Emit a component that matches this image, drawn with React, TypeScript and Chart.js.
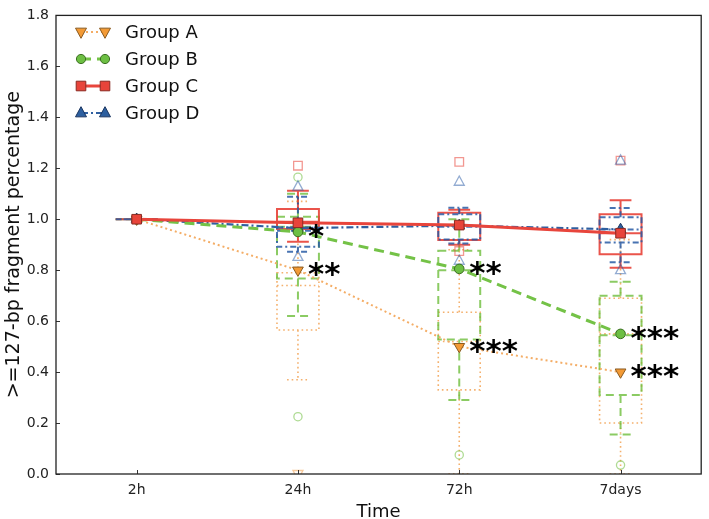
import React, { useEffect, useRef } from 'react';
import { Chart, registerables } from 'chart.js';

Chart.register(...registerables);

const FONT = '"DejaVu Sans", "Liberation Sans", sans-serif';

const categories = ['2h', '24h', '72h', '7days'];
const yTicks = [0, 0.2, 0.4, 0.6, 0.8, 1.0, 1.2, 1.4, 1.6, 1.8];
const groupNames = ['Group A', 'Group B', 'Group C', 'Group D'];

// mean values (line markers)
const meanA = [1.0, 0.8, 0.5, 0.4];
const meanB = [1.0, 0.95, 0.805, 0.55];
const meanC = [1.0, 0.986, 0.977, 0.945];
const meanD = [1.0, 0.965, 0.975, 0.96];

// box plot statistics
const loA = [1.0, 0.37, 0.0, 0.0];
const q1A = [1.0, 0.565, 0.33, 0.2];
const medA = [1.0, 0.74, 0.52, 0.55];
const q3A = [1.0, 0.79, 0.635, 0.69];
const hiA = [1.0, 1.07, 0.88, 0.92];
const fliersA = [[], [0.0], [], []];

const loB = [1.0, 0.62, 0.29, 0.155];
const q1B = [1.0, 0.767, 0.528, 0.31];
const medB = [1.0, 0.97, 0.8, 0.545];
const q3B = [1.0, 1.01, 0.876, 0.7];
const hiB = [1.0, 1.1, 1.0, 0.755];
const fliersB = [[], [1.165, 0.225], [0.075], [0.035]];

const loC = [1.0, 0.912, 0.9, 0.81];
const q1C = [1.0, 0.962, 0.918, 0.863];
const medC = [1.0, 0.99, 0.975, 0.945];
const q3C = [1.0, 1.04, 1.025, 1.02];
const hiC = [1.0, 1.112, 1.037, 1.074];
const fliersC = [[], [1.21], [1.225, 0.875], [1.23]];

const loD = [1.0, 0.872, 0.905, 0.831];
const q1D = [1.0, 0.892, 0.92, 0.909];
const medD = [1.0, 0.955, 0.97, 0.96];
const q3D = [1.0, 0.968, 1.02, 1.008];
const hiD = [1.0, 1.088, 1.045, 1.044];
const fliersD = [[], [1.128, 0.852], [1.147, 0.837], [1.23, 0.8]];

// significance annotations
const starGroup = [1, 0, 1, 0, 1, 0];
const starIndex = [1, 1, 2, 2, 3, 3];
const starText = ['*', '**', '**', '***', '***', '***'];

const means = [meanA, meanB, meanC, meanD];
const boxes = [
  { lo: loA, q1: q1A, med: medA, q3: q3A, hi: hiA, fl: fliersA },
  { lo: loB, q1: q1B, med: medB, q3: q3B, hi: hiB, fl: fliersB },
  { lo: loC, q1: q1C, med: medC, q3: q3C, hi: hiC, fl: fliersC },
  { lo: loD, q1: q1D, med: medD, q3: q3D, hi: hiD, fl: fliersD },
];

// styles
const shapes = ['triDown', 'circle', 'square', 'triUp'];
const markerFill = ['#f39a35', '#6dbf43', '#e8443a', '#2d5f9f'];
const markerEdge = ['#8a5a20', '#3b6e22', '#8a2a22', '#1a3560'];
const lineColor = ['#f4ad66', '#74c247', '#e8453c', '#2f5fa0'];
const lineWidth = [2, 3, 3, 2.2];
const lineDash = [[2, 3], [10, 6], [], [7, 3, 2, 3]];
const boxColor = ['rgba(240,150,60,0.75)', 'rgba(110,190,60,0.8)', 'rgba(232,65,55,0.9)', 'rgba(40,90,165,0.85)'];
const boxLW = [1.6, 2, 2, 2];
const boxDash = [[1.6, 3], [8, 5], [], [6, 3, 2, 3]];
const flierColor = ['rgba(240,150,60,0.5)', 'rgba(110,190,60,0.55)', 'rgba(232,65,55,0.55)', 'rgba(40,90,165,0.5)'];
const BOX_W = 0.26;
const CAP_W = 0.135;

function drawMarker(ctx: CanvasRenderingContext2D, shape: string, x: number, y: number, s: number, fill: string | null, stroke: string | null, lw: number) {
  ctx.beginPath();
  if (shape === 'circle') ctx.arc(x, y, s, 0, Math.PI * 2);
  else if (shape === 'square') ctx.rect(x - s, y - s, 2 * s, 2 * s);
  else if (shape === 'triUp') {
    ctx.moveTo(x, y - s * 1.15);
    ctx.lineTo(x + s, y + s * 0.7);
    ctx.lineTo(x - s, y + s * 0.7);
    ctx.closePath();
  } else {
    ctx.moveTo(x, y + s * 1.15);
    ctx.lineTo(x + s, y - s * 0.7);
    ctx.lineTo(x - s, y - s * 0.7);
    ctx.closePath();
  }
  if (fill) {
    ctx.fillStyle = fill;
    ctx.fill();
  }
  if (stroke) {
    ctx.setLineDash([]);
    ctx.strokeStyle = stroke;
    ctx.lineWidth = lw;
    ctx.stroke();
  }
}

const markerSize = [5.5, 4.6, 4.8, 5.5];

const boxPlugin = {
  id: 'boxplots',
  beforeDatasetsDraw(chart: any) {
    const { ctx, chartArea, scales } = chart;
    const x = scales.x;
    const y = scales.y;
    ctx.save();
    ctx.beginPath();
    ctx.rect(chartArea.left, chartArea.top, chartArea.right - chartArea.left, chartArea.bottom - chartArea.top);
    ctx.clip();
    for (let g = 0; g < boxes.length; g++) {
      const b = boxes[g];
      for (let i = 0; i < categories.length; i++) {
        const cx = x.getPixelForValue(i);
        const xl = x.getPixelForValue(i - BOX_W / 2);
        const xr = x.getPixelForValue(i + BOX_W / 2);
        const cl = x.getPixelForValue(i - CAP_W / 2);
        const cr = x.getPixelForValue(i + CAP_W / 2);
        const yLo = y.getPixelForValue(b.lo[i]);
        const yQ1 = y.getPixelForValue(b.q1[i]);
        const yMed = y.getPixelForValue(b.med[i]);
        const yQ3 = y.getPixelForValue(b.q3[i]);
        const yHi = y.getPixelForValue(b.hi[i]);
        ctx.strokeStyle = boxColor[g];
        ctx.lineWidth = boxLW[g];
        ctx.setLineDash(boxDash[g]);
        ctx.beginPath();
        ctx.moveTo(xl, yQ3);
        ctx.lineTo(xr, yQ3);
        ctx.lineTo(xr, yQ1);
        ctx.lineTo(xl, yQ1);
        ctx.closePath();
        ctx.moveTo(xl, yMed);
        ctx.lineTo(xr, yMed);
        ctx.moveTo(cx, yQ3);
        ctx.lineTo(cx, yHi);
        ctx.moveTo(cx, yQ1);
        ctx.lineTo(cx, yLo);
        ctx.moveTo(cl, yHi);
        ctx.lineTo(cr, yHi);
        ctx.moveTo(cl, yLo);
        ctx.lineTo(cr, yLo);
        ctx.stroke();
        for (const v of b.fl[i]) {
          drawMarker(ctx, shapes[g], cx, y.getPixelForValue(v), markerSize[g] - 0.5, null, flierColor[g], 1.3);
        }
      }
    }
    ctx.restore();
  },
};

const overlayPlugin = {
  id: 'overlay',
  afterDatasetsDraw(chart: any) {
    const { ctx, scales } = chart;
    const x = scales.x;
    const y = scales.y;
    ctx.save();
    ctx.fillStyle = '#000';
    ctx.font = 'bold 31px ' + FONT;
    ctx.textAlign = 'left';
    ctx.textBaseline = 'alphabetic';
    for (let k = 0; k < starText.length; k++) {
      const g = starGroup[k];
      const i = starIndex[k];
      const px = x.getPixelForValue(i);
      const py = y.getPixelForValue(means[g][i]);
      ctx.fillText(starText[k], px + 10, py + 14);
    }
    ctx.restore();
  },
  afterDraw(chart: any) {
    const { ctx, chartArea, scales } = chart;
    const { left, right, top, bottom } = chartArea;
    const x = scales.x;
    const y = scales.y;
    ctx.save();
    // inward ticks
    ctx.strokeStyle = '#333';
    ctx.lineWidth = 1;
    ctx.setLineDash([]);
    ctx.beginPath();
    for (const v of yTicks) {
      const py = Math.round(y.getPixelForValue(v)) + 0.5;
      ctx.moveTo(left, py);
      ctx.lineTo(left + 4, py);
    }
    for (let i = 0; i < categories.length; i++) {
      const px = Math.round(x.getPixelForValue(i)) + 0.5;
      ctx.moveTo(px, bottom);
      ctx.lineTo(px, bottom - 4);
    }
    ctx.stroke();
    // frame
    ctx.strokeStyle = '#222';
    ctx.lineWidth = 1.3;
    ctx.strokeRect(left, top, right - left, bottom - top);

    // axis titles
    ctx.fillStyle = '#111';
    ctx.font = '18px ' + FONT;
    ctx.textAlign = 'center';
    ctx.textBaseline = 'middle';
    ctx.fillText('Time', (left + right) / 2, 512);
    ctx.save();
    ctx.font = '19px ' + FONT;
    ctx.translate(14, (top + bottom) / 2);
    ctx.rotate(-Math.PI / 2);
    ctx.fillText('>=127-bp fragment percentage', 0, 0);
    ctx.restore();

    // legend
    const lx0 = 81;
    const lx1 = 105;
    for (let g = 0; g < groupNames.length; g++) {
      const ly = 32 + 27 * g;
      ctx.beginPath();
      ctx.strokeStyle = lineColor[g];
      ctx.lineWidth = lineWidth[g];
      ctx.setLineDash(lineDash[g]);
      ctx.moveTo(lx0, ly);
      ctx.lineTo(lx1, ly);
      ctx.stroke();
      drawMarker(ctx, shapes[g], lx0, ly, markerSize[g], markerFill[g], markerEdge[g], 1);
      drawMarker(ctx, shapes[g], lx1, ly, markerSize[g], markerFill[g], markerEdge[g], 1);
      ctx.fillStyle = '#111';
      ctx.font = '18px ' + FONT;
      ctx.textAlign = 'left';
      ctx.textBaseline = 'middle';
      ctx.fillText(groupNames[g], 125, ly + 1);
    }
    ctx.restore();
  },
};

const pointStyleFor = ['triangle', 'circle', 'rect', 'triangle'];
const pointRot = [180, 0, 0, 0];
const pointRad = [6.2, 4.8, 6.8, 6.2];
const drawOrder = [3, 1, 0, 2];

export default function App() {
  const ref = useRef<HTMLCanvasElement | null>(null);
  useEffect(() => {
    if (!ref.current) return;
    const datasets = means.map((m, g) => ({
      label: groupNames[g],
      data: m.map((v, i) => ({ x: i, y: v })),
      borderColor: lineColor[g],
      borderWidth: lineWidth[g],
      borderDash: lineDash[g],
      backgroundColor: markerFill[g],
      pointStyle: pointStyleFor[g],
      pointRotation: pointRot[g],
      pointRadius: pointRad[g],
      pointBackgroundColor: markerFill[g],
      pointBorderColor: markerEdge[g],
      pointBorderWidth: 1,
      tension: 0,
      fill: false,
      order: drawOrder[g],
    }));
    const chart = new Chart(ref.current, {
      type: 'line',
      data: { datasets },
      options: {
        responsive: false,
        animation: false,
        layout: { padding: { top: 9, right: 3, left: 0, bottom: 0 } },
        plugins: {
          legend: { display: false },
          tooltip: { enabled: false },
        },
        scales: {
          x: {
            type: 'linear',
            min: -0.5,
            max: 3.5,
            grid: { display: false, drawTicks: false },
            border: { display: false },
            afterBuildTicks: (s: any) => {
              s.ticks = categories.map((_, i) => ({ value: i }));
            },
            afterFit: (s: any) => {
              s.height = 45;
            },
            ticks: {
              callback: (v: any) => categories[Math.round(Number(v))] ?? '',
              font: { family: FONT, size: 14 },
              color: '#222',
              padding: 8,
              maxRotation: 0,
              autoSkip: false,
            },
          },
          y: {
            type: 'linear',
            min: 0,
            max: 1.8,
            grid: { display: false, drawTicks: false },
            border: { display: false },
            afterBuildTicks: (s: any) => {
              s.ticks = yTicks.map((v) => ({ value: v }));
            },
            afterFit: (s: any) => {
              s.width = 56;
            },
            ticks: {
              callback: (v: any) => Number(v).toFixed(1),
              font: { family: FONT, size: 14 },
              color: '#222',
              padding: 7,
            },
          },
        },
      },
      plugins: [boxPlugin, overlayPlugin],
    } as any);
    return () => chart.destroy();
  }, []);
  return (
    <div style={{ position: 'absolute', left: 0, top: 0, width: 709, height: 519, background: '#fff' }}>
      <canvas ref={ref} width={709} height={519} />
    </div>
  );
}
